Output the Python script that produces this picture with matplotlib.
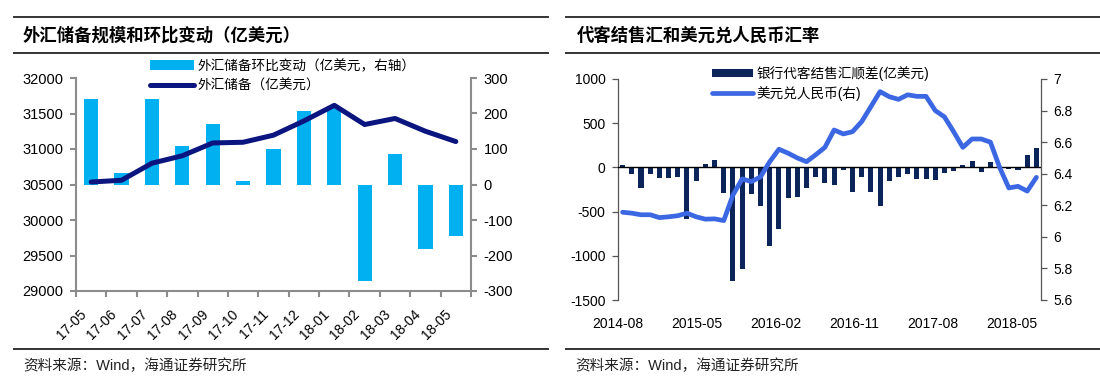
import matplotlib
matplotlib.use("Agg")
import matplotlib.pyplot as plt
import matplotlib.transforms as mtransforms
import numpy as np
from matplotlib.lines import Line2D

plt.rcParams["font.family"] = ["Liberation Sans", "Noto Sans CJK SC", "DejaVu Sans"]
plt.rcParams["axes.unicode_minus"] = False

# ── data: left panel (FX reserves) ─────────────────────
months_l = ["17-05", "17-06", "17-07", "17-08", "17-09", "17-10", "17-11",
            "17-12", "18-01", "18-02", "18-03", "18-04", "18-05"]
reserve = [30535, 30560, 30800, 30905, 31085, 31095, 31195,
           31395, 31615, 31345, 31430, 31250, 31105]
reserve_chg = [240, 32, 240, 109, 170, 10, 101, 207, 216, -273, 85, -183, -145]

# ── data: right panel (bank settlement, USD/CNY), 2014-08 .. 2018-05 ──
settle = [30, -79, -237, -72, -117, -117, -106, -584, -151, 34,
          87, -290, -1290, -1154, -302, -437, -886, -701, -351, -339,
          -234, -106, -181, -200, -30, -275, -106, -275, -434, -158,
          -104, -72, -128, -128, -140, -68, -41, 30, 75, -49,
          64, -5, -15, -26, 141, 224]
usdcny = [6.156, 6.150, 6.140, 6.140, 6.122, 6.127, 6.134, 6.150, 6.127, 6.112,
          6.114, 6.103, 6.265, 6.367, 6.350, 6.380, 6.476, 6.555, 6.530, 6.500,
          6.476, 6.520, 6.567, 6.677, 6.652, 6.666, 6.730, 6.825, 6.920, 6.888,
          6.871, 6.900, 6.890, 6.890, 6.800, 6.760, 6.666, 6.567, 6.620, 6.620,
          6.600, 6.440, 6.310, 6.320, 6.290, 6.377]
xlabels_r = ["2014-08", "2015-05", "2016-02", "2016-11", "2017-08", "2018-05"]

BAR_L = "#00B0F0"
LINE_L = "#0A1580"
BAR_R = "#0B2459"
LINE_R = "#3B67E3"
SPINE_L = "#8c8c8c"
SPINE_R = "#555555"

W, H = 1100, 384
fig = plt.figure(figsize=(W / 100, H / 100), dpi=100)


def fx(px):
    return px / W


def fy(py):
    return 1 - py / H


def hline(x0, x1, y):
    fig.add_artist(Line2D([fx(x0), fx(x1)], [fy(y), fy(y)],
                          transform=fig.transFigure, color="#333333", lw=1.4))


# ── frame: header / footer lines and texts ─────────────
for x0, x1 in [(14, 548), (566, 1100)]:
    hline(x0, x1, 17)
    hline(x0, x1, 53)
    hline(x0, x1, 349)

fig.text(fx(23), fy(35), "外汇储备规模和环比变动（亿美元）", fontsize=12.5,
         fontweight="bold", va="center", ha="left")
fig.text(fx(577), fy(35), "代客结售汇和美元兑人民币汇率", fontsize=12.5,
         fontweight="bold", va="center", ha="left")
fig.text(fx(23), fy(366), "资料来源：Wind，海通证券研究所", fontsize=10.5,
         va="center", ha="left", color="#222222")
fig.text(fx(575), fy(366), "资料来源：Wind，海通证券研究所", fontsize=10.5,
         va="center", ha="left", color="#222222")

# ── A) FX reserves ─────────────────────────────────────
ax = fig.add_axes([fx(76), fy(291), fx(471 - 76), (291 - 78) / H])
ax2 = ax.twinx()
x = np.arange(len(months_l))
bars = ax2.bar(x, reserve_chg, width=0.47, color=BAR_L, zorder=2)
ax2.set_ylim(-300, 300)
ax2.set_yticks(np.arange(-300, 301, 100))

ln, = ax.plot(x, reserve, color=LINE_L, lw=3.6, solid_capstyle="round", zorder=3)
ax.set_ylim(29000, 32000)
ax.set_yticks(np.arange(29000, 32001, 500))
ax.set_xlim(-0.5, len(months_l) - 0.5)
ax.set_zorder(ax2.get_zorder() + 1)
ax.patch.set_visible(False)

ax.set_xticks(np.arange(-0.5, len(months_l) + 0.5, 1.0))
ax.set_xticklabels([])
ax.set_xticks(x, minor=True)
ax.set_xticklabels(months_l, minor=True, rotation=45, ha="right", va="center",
                   rotation_mode="anchor", fontsize=10)
ax.tick_params(axis="x", which="minor", length=0, pad=15)
shift = mtransforms.ScaledTranslation(-5 / 72, 0, fig.dpi_scale_trans)
for lab in ax.get_xticklabels(minor=True):
    lab.set_transform(lab.get_transform() + shift)

for a in (ax, ax2):
    for s in a.spines.values():
        s.set_color(SPINE_L)
        s.set_linewidth(1.5)
    a.spines["top"].set_visible(False)
ax.spines["right"].set_visible(False)
ax2.spines["left"].set_visible(False)
ax2.spines["bottom"].set_visible(False)
ax.tick_params(axis="both", which="major", color=SPINE_L, width=1.5, length=4,
               labelsize=10.5, pad=5)
ax2.tick_params(axis="y", color=SPINE_L, width=1.5, length=4, labelsize=10.5, pad=5)

fig.legend([bars, ln], ["外汇储备环比变动（亿美元，右轴）", "外汇储备（亿美元）"],
           loc="upper left", bbox_to_anchor=(fx(150), fy(59)), frameon=False,
           fontsize=9.8, handlelength=3.2, handletextpad=0.3, labelspacing=0.45,
           borderpad=0, borderaxespad=0)

# ── B) settlement + USD/CNY ────────────────────────────
axr = fig.add_axes([fx(618), fy(300), fx(1041 - 618), (300 - 79) / H])
axr2 = axr.twinx()
xr = np.arange(len(settle))
bars_r = axr.bar(xr, settle, width=0.55, color=BAR_R, zorder=2)
axr.axhline(0, color="black", lw=1.0, zorder=3)
axr.set_ylim(-1500, 1000)
axr.set_yticks(np.arange(-1500, 1001, 500))
axr.set_xlim(-0.5, len(settle) - 0.5)

ln_r, = axr2.plot(xr, usdcny, color=LINE_R, lw=3.4, solid_capstyle="round")
axr2.set_ylim(5.6, 7.0)
axr2.set_yticks(np.arange(5.6, 7.01, 0.2))
axr2.set_yticklabels([f"{v:g}" for v in np.round(np.arange(5.6, 7.01, 0.2), 1)])

label_pos = -0.5 + np.arange(len(xlabels_r)) * 8.57
axr.set_xticks(label_pos)
axr.set_xticklabels(xlabels_r, fontsize=10)
axr.tick_params(axis="x", length=0, pad=12)

for a in (axr, axr2):
    for s in a.spines.values():
        s.set_color(SPINE_R)
        s.set_linewidth(0.9)
    a.spines["top"].set_visible(False)
    a.spines["bottom"].set_visible(False)
axr.spines["right"].set_visible(False)
axr2.spines["left"].set_visible(False)
axr.tick_params(axis="y", color=SPINE_R, width=0.9, length=4, labelsize=10, pad=5)
axr2.tick_params(axis="y", color=SPINE_R, width=0.9, length=4, labelsize=10, pad=5)

fig.legend([bars_r, ln_r], ["银行代客结售汇顺差(亿美元)", "美元兑人民币(右)"],
           loc="upper left", bbox_to_anchor=(fx(712), fy(66)), frameon=False,
           fontsize=9.8, handlelength=3.0, handleheight=0.5, handletextpad=0.3,
           labelspacing=0.35, borderpad=0, borderaxespad=0)

fig.savefig("out.png", dpi=100)
